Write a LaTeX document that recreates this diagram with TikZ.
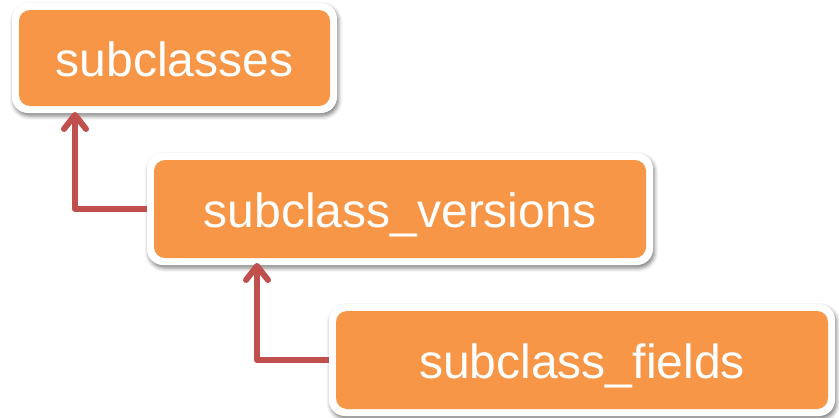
\documentclass[tikz,border=0pt]{standalone}
\usepackage{fontspec}
\setmainfont{Liberation Sans}
\usetikzlibrary{arrows.meta,shadows.blur}
\definecolor{boxorange}{HTML}{F79646}
\definecolor{linkred}{HTML}{C0504D}
\tikzset{
  tablebox/.style={
    rectangle, rounded corners=16pt, fill=white, inner sep=0pt, outer sep=0pt,
    text=white, font=\fontsize{48}{56}\selectfont,
    text height=36pt, text depth=0pt,
    blur shadow={shadow xshift=1.5pt, shadow yshift=-3pt,
                 shadow blur radius=4pt, shadow opacity=50},
    path picture={
      \fill[boxorange, rounded corners=11pt]
        ([shift={(7pt,-7pt)}]path picture bounding box.north west) rectangle
        ([shift={(-7pt,7pt)}]path picture bounding box.south east);
    }
  },
  link/.style={
    draw=linkred, line width=6pt, line join=round,
    -{Straight Barb[length=14pt, width=22pt, round]}
  }
}
\begin{document}
\begin{tikzpicture}[x=1pt, y=-1pt]
  \useasboundingbox (0,0) rectangle (839,418);

  \node[tablebox, minimum width=325pt, minimum height=110pt] (b1) at (174.5,58) {subclasses};
  \node[tablebox, minimum width=506pt, minimum height=112pt] (b2) at (400,209) {subclass\_versions};
  \node[tablebox, minimum width=506pt, minimum height=112pt] (b3) at (582,360) {subclass\_fields};

  % references from each child table up to its parent
  \draw[link] (b2.west) -| ([xshift=63pt, yshift=1pt]b1.south west);
  \draw[link] (b3.west) -| ([xshift=110pt, yshift=2pt]b2.south west);
\end{tikzpicture}
\end{document}
